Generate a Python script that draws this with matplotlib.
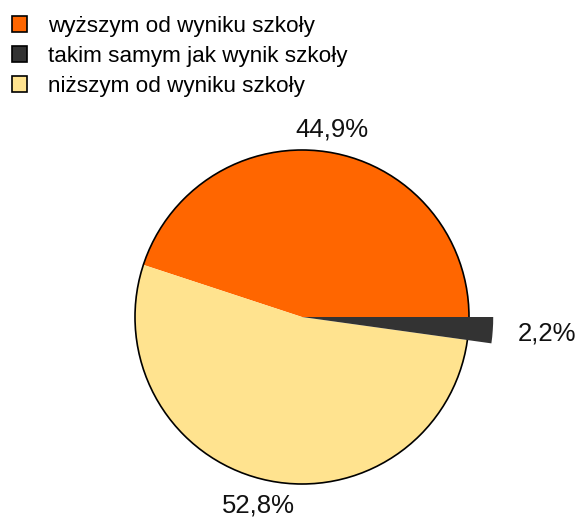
import matplotlib
matplotlib.use('Agg')
import matplotlib.pyplot as plt
from matplotlib.patches import Patch, Circle
import numpy as np

plt.rcParams['font.family'] = ['Liberation Sans', 'DejaVu Sans']

# --- data ---
categories = ['wyższym od wyniku szkoły', 'takim samym jak wynik szkoły', 'niższym od wyniku szkoły']
values = [44.9, 2.2, 52.8]
value_labels = ['44,9%', '2,2%', '52,8%']
colors = ['#FF6600', '#333333', '#FFE38F']

W, H = 578, 517
R = 167.0          # pie radius in px
cx, cy = 302, 317  # pie centre in px (from top-left)

fig = plt.figure(figsize=(W / 100, H / 100), dpi=100)
ax = fig.add_axes([0, 0, 1, 1])
ax.axis('off')

start = 360 * values[0] / sum(values)
wedges, _ = ax.pie(values, colors=colors, startangle=start, counterclock=False,
                   radius=1, wedgeprops=dict(linewidth=0), frame=False)
ax.set_xlim(-cx / R, (W - cx) / R)
ax.set_ylim(-(H - cy) / R, cy / R)

# outline of the pie, the small slice sticks out over it
ax.add_patch(Circle((0, 0), 1, fill=False, edgecolor='black', linewidth=1.2, zorder=3))
wedges[1].set_radius(1.145)
wedges[1].set_zorder(4)

label_dist = [1.14, 1.47, 1.16]
for w, txt, d in zip(wedges, value_labels, label_dist):
    ang = np.deg2rad((w.theta1 + w.theta2) / 2)
    ax.text(d * np.cos(ang), d * np.sin(ang), txt, ha='center', va='center',
            fontsize=18.5, color='#111111')

handles = [Patch(facecolor=c, edgecolor='black', linewidth=1.2) for c in colors]
fig.legend(handles, categories, loc='upper left', bbox_to_anchor=(12 / W, 1 - 16 / H),
           frameon=False, fontsize=16.2, handlelength=0.68, handleheight=0.68,
           handletextpad=0.9, labelspacing=0.4, borderpad=0, borderaxespad=0)

fig.savefig('out.png', dpi=100)
